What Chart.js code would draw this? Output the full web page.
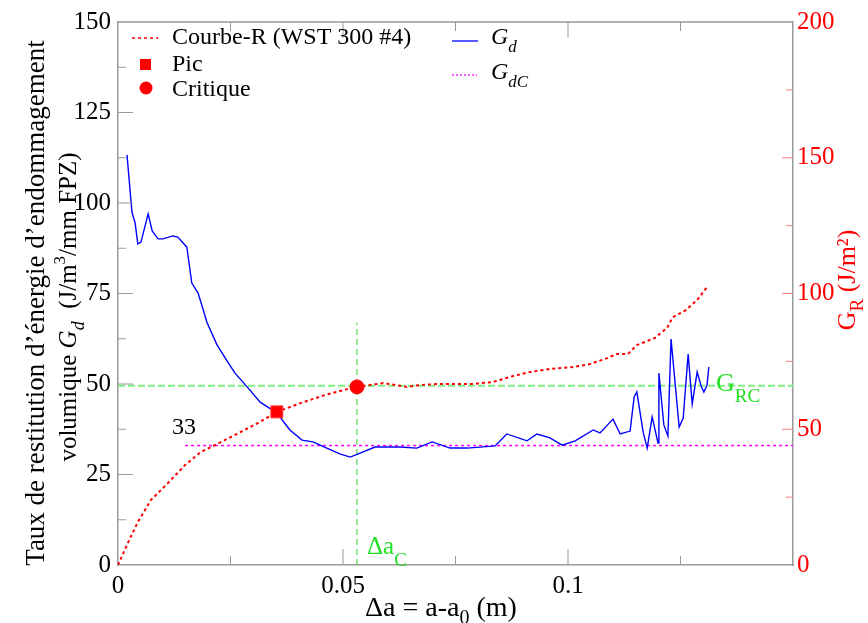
<!DOCTYPE html>
<html>
<head>
<meta charset="utf-8">
<script src="https://cdn.jsdelivr.net/npm/chart.js@4.4.0/dist/chart.umd.min.js"></script>
<style>
  html, body { margin: 0; padding: 0; background: #fff; }
  #wrap { width: 868px; height: 623px; }
</style>
</head>
<body>
<div id="wrap"><canvas id="chart" width="868" height="623"></canvas></div>
<script>
// Gd (left axis)
var gdX = [0.0020, 0.0031, 0.0038, 0.0044, 0.0051, 0.0067, 0.0076, 0.0089, 0.0100, 0.0122, 0.0133, 0.0153,
           0.0164, 0.0178, 0.0198, 0.0220, 0.0238, 0.0260, 0.0287, 0.0316, 0.0353, 0.0382, 0.0409, 0.0433,
           0.0464, 0.0493, 0.0516, 0.0538, 0.0571, 0.0627, 0.0664, 0.0698, 0.0738, 0.0776, 0.0838, 0.0864,
           0.0909, 0.0931, 0.0960, 0.0987, 0.1016, 0.1056, 0.1071, 0.1100, 0.1116, 0.1138, 0.1147, 0.1153,
           0.1167, 0.1176, 0.1187, 0.1200, 0.1202, 0.1213, 0.1222, 0.1229, 0.1247, 0.1256, 0.1267, 0.1276,
           0.1287, 0.1296, 0.1302, 0.1309, 0.1313];
var gdY = [113.3, 97.5, 94.5, 88.7, 89.2, 97.0, 92.3, 90.1, 90.1, 90.9, 90.6, 87.8,
           77.9, 75.1, 66.9, 60.8, 57.2, 53.0, 49.2, 45.0, 42.0, 37.3, 34.5, 34.0,
           32.3, 30.7, 29.8, 30.9, 32.6, 32.6, 32.3, 34.0, 32.3, 32.3, 32.9, 36.2,
           34.3, 36.2, 35.1, 33.1, 34.3, 37.3, 36.5, 40.3, 36.2, 37.0, 46.4, 47.8,
           36.7, 32.3, 40.9, 33.7, 53.0, 38.7, 35.6, 62.4, 38.1, 40.6, 58.3, 44.5,
           53.3, 49.4, 47.8, 49.7, 54.7];

// R-curve GR (right axis)
var grX = [0, 0.0022, 0.0044, 0.0073, 0.0111, 0.0149, 0.0184, 0.0216, 0.0260, 0.0311, 0.0353, 0.0407,
           0.0460, 0.0518, 0.0531, 0.0589, 0.0642, 0.0671, 0.0716, 0.0789, 0.0833, 0.0878, 0.0916, 0.0960,
           0.1011, 0.1049, 0.1087, 0.1109, 0.1133, 0.1153, 0.1193, 0.1220, 0.1233, 0.1262, 0.1287, 0.1311];
var grY = [0, 8.1, 15.8, 23.9, 30.2, 36.8, 41.6, 44.2, 47.9, 52.3, 56.4, 59.7,
           62.6, 65.2, 65.6, 67.0, 65.6, 66.3, 66.7, 66.7, 67.4, 69.6, 71.1, 72.2,
           72.9, 74.0, 76.2, 77.7, 77.7, 81.0, 83.6, 87.3, 91.3, 93.9, 97.6, 102.8];

var pic = [0.0353, 56.4];        // peak (x, GR)
var critique = [0.0531, 65.6];   // critical point (x, GR)
var gdC = 33;                    // Gd critical
var gdCStart = 0.0149;
var gRC = 49.5;                  // GRC line (left axis units)
var daC = 0.0531;                // delta a critical
var daCTop = 67;

var xMax = 0.15, yMax = 150, y2Max = 200;
var xLabels = ['0', '0.05', '0.1'];
var yLabels = ['0', '25', '50', '75', '100', '125', '150'];
var y2Labels = ['0', '50', '100', '150', '200'];

var serif = '"Liberation Serif", "DejaVu Serif", "Times New Roman", serif';

function pts(xs, ys) {
    return xs.map(function (x, i) { return { x: x, y: ys[i] }; });
}

// draws text made of pieces: [text, size, italic, dy]
function rich(ctx, parts, x, y, align) {
    var w = 0;
    parts.forEach(function (p) {
        ctx.font = (p[2] ? 'italic ' : '') + p[1] + 'px ' + serif;
        w += ctx.measureText(p[0]).width;
    });
    var cx = align === 'center' ? x - w / 2 : x;
    parts.forEach(function (p) {
        ctx.font = (p[2] ? 'italic ' : '') + p[1] + 'px ' + serif;
        ctx.fillText(p[0], cx, y + (p[3] || 0));
        cx += ctx.measureText(p[0]).width;
    });
}

function near(v, step) {
    return Math.abs(v / step - Math.round(v / step)) < 1e-6;
}

var decor = {
    id: 'decor',
    afterDraw: function (chart) {
        var ctx = chart.ctx, a = chart.chartArea;
        var sx = chart.scales.x, sy = chart.scales.y, sy2 = chart.scales.y2;
        ctx.save();

        // frame top line
        ctx.strokeStyle = '#999';
        ctx.lineWidth = 1.5;
        ctx.beginPath();
        ctx.moveTo(a.left, a.top);
        ctx.lineTo(a.right, a.top);
        ctx.stroke();

        // inward ticks
        ctx.lineWidth = 1;
        ctx.beginPath();
        sx.ticks.forEach(function (t) {
            var px = sx.getPixelForValue(t.value);
            if (t.value <= 0 || t.value >= xMax - 1e-9) return;
            var len = near(t.value, 0.05) ? 16 : 9;
            ctx.moveTo(px, a.bottom); ctx.lineTo(px, a.bottom - len);
            ctx.moveTo(px, a.top); ctx.lineTo(px, a.top + len);
        });
        sy.ticks.forEach(function (t) {
            var py = sy.getPixelForValue(t.value);
            if (t.value <= 0 || t.value >= yMax) return;
            var len = near(t.value, 25) ? 15 : 8;
            ctx.moveTo(a.left, py); ctx.lineTo(a.left + len, py);
        });
        ctx.stroke();

        ctx.strokeStyle = '#ff8080';
        ctx.beginPath();
        sy2.ticks.forEach(function (t) {
            var py = sy2.getPixelForValue(t.value);
            if (t.value <= 0 || t.value >= y2Max) return;
            var len = near(t.value, 50) ? 11 : 7;
            ctx.moveTo(a.right, py); ctx.lineTo(a.right - len, py);
        });
        ctx.stroke();

        // legend
        ctx.textBaseline = 'alphabetic';
        ctx.textAlign = 'left';
        ctx.lineWidth = 1.5;
        ctx.strokeStyle = '#ff0000';
        ctx.setLineDash([3, 3]);
        ctx.beginPath(); ctx.moveTo(132, 38); ctx.lineTo(158, 38); ctx.stroke();
        ctx.setLineDash([]);
        ctx.fillStyle = '#ff0000';
        ctx.fillRect(140, 59, 11, 11);
        ctx.beginPath(); ctx.arc(146, 88, 6.5, 0, Math.PI * 2); ctx.fill();
        ctx.fillStyle = '#000';
        ctx.font = '24px ' + serif;
        ctx.fillText('Courbe-R (WST 300 #4)', 172, 44);
        ctx.fillText('Pic', 172, 71);
        ctx.fillText('Critique', 172, 96);

        ctx.strokeStyle = '#0000ff';
        ctx.lineWidth = 1.3;
        ctx.beginPath(); ctx.moveTo(452, 41); ctx.lineTo(478, 41); ctx.stroke();
        ctx.strokeStyle = '#ff00ff';
        ctx.setLineDash([2, 2]);
        ctx.beginPath(); ctx.moveTo(452, 75); ctx.lineTo(477, 75); ctx.stroke();
        ctx.setLineDash([]);
        rich(ctx, [['G', 24, true, 0], ['d', 17, true, 8]], 491, 44);
        rich(ctx, [['G', 24, true, 0], ['dC', 17, true, 8]], 491, 79);

        // annotations
        ctx.fillStyle = '#000';
        ctx.font = '24px ' + serif;
        ctx.fillText(String(gdC), 172, 434);
        ctx.fillStyle = '#22e022';
        rich(ctx, [['G', 26, false, 0], ['RC', 19, false, 11]], 716, 391);
        rich(ctx, [['\u0394a', 25, false, 0], ['C', 19, false, 12]], 367, 554);

        // x title
        ctx.fillStyle = '#000';
        rich(ctx, [['\u0394a = a-a', 28, false, 0], ['0', 20, false, 8], [' (m)', 28, false, 0]], 441, 616, 'center');

        // left title
        ctx.save();
        ctx.rotate(-Math.PI / 2);
        rich(ctx, [['Taux de restitution d\u2019\u00e9nergie d\u2019endommagement', 27, false, 0]], -303, 44, 'center');
        rich(ctx, [['volumique ', 25, false, 0], ['G', 25, true, 0], ['d', 18, true, 8],
                   ['  (J/m', 25, false, 0], ['3', 17, false, -11], ['/mm FPZ)', 25, false, 0]], -307, 76, 'center');
        ctx.restore();

        // right title
        ctx.save();
        ctx.fillStyle = '#ff0000';
        ctx.translate(855, 280);
        ctx.rotate(-Math.PI / 2);
        rich(ctx, [['G', 26, false, 0], ['R', 19, false, 8], [' (J/m\u00b2)', 26, false, 0]], 0, 0, 'center');
        ctx.restore();

        ctx.restore();
    }
};

var chart = new Chart(document.getElementById('chart'), {
    type: 'line',
    data: {
        datasets: [
            {
                label: 'Pic', data: pts([pic[0]], [pic[1]]), yAxisID: 'y2', showLine: false,
                pointStyle: 'rect', pointRadius: 8.5, pointBackgroundColor: '#ff0000',
                pointBorderColor: '#ff4040', pointBorderWidth: 1, order: 0
            },
            {
                label: 'Critique', data: pts([critique[0]], [critique[1]]), yAxisID: 'y2', showLine: false,
                pointStyle: 'circle', pointRadius: 7, pointBackgroundColor: '#ff0000',
                pointBorderColor: '#ff0000', order: 1
            },
            {
                label: 'Courbe-R', data: pts(grX, grY), yAxisID: 'y2', borderColor: '#ff0000',
                borderWidth: 2, borderDash: [3, 3], pointRadius: 0, tension: 0, order: 2
            },
            {
                label: 'Gd', data: pts(gdX, gdY), yAxisID: 'y', borderColor: '#0000ff',
                borderWidth: 1.4, pointRadius: 0, tension: 0, order: 3
            },
            {
                label: 'GdC', data: pts([gdCStart, xMax], [gdC, gdC]), yAxisID: 'y', borderColor: '#ff00ff',
                borderWidth: 1.5, borderDash: [3, 3], pointRadius: 0, order: 4
            },
            {
                label: 'GRC', data: pts([0, xMax], [gRC, gRC]), yAxisID: 'y', borderColor: '#80f080',
                borderWidth: 2, borderDash: [7, 3], pointRadius: 0, order: 5
            },
            {
                label: 'daC', data: pts([daC, daC], [0, daCTop]), yAxisID: 'y', borderColor: '#33cc33',
                borderWidth: 1, borderDash: [6, 4], pointRadius: 0, order: 6
            }
        ]
    },
    options: {
        responsive: false,
        animation: false,
        devicePixelRatio: 1,
        layout: { padding: { top: 22, left: 0, right: 0, bottom: 0 } },
        plugins: { legend: { display: false }, tooltip: { enabled: false } },
        scales: {
            x: {
                type: 'linear', min: 0, max: xMax,
                grid: { display: false, drawTicks: false },
                border: { display: true, color: '#999', width: 1.5 },
                ticks: {
                    stepSize: 0.025, autoSkip: false, maxRotation: 0, padding: 6, color: '#000',
                    font: { family: serif, size: 25 },
                    callback: function (v) {
                        var k = Math.round(v / 0.05);
                        return near(v, 0.05) && xLabels[k] !== undefined ? xLabels[k] : '';
                    }
                },
                afterFit: function (s) { s.height = 58; }
            },
            y: {
                position: 'left', min: 0, max: yMax,
                grid: { display: false, drawTicks: false },
                border: { display: true, color: '#999', width: 1.5 },
                ticks: {
                    stepSize: 12.5, autoSkip: false, padding: 7, color: '#000',
                    font: { family: serif, size: 25 },
                    callback: function (v) {
                        return near(v, 25) ? yLabels[Math.round(v / 25)] : '';
                    }
                },
                afterFit: function (s) { s.width = 118; }
            },
            y2: {
                position: 'right', min: 0, max: y2Max,
                grid: { display: false, drawTicks: false },
                border: { display: true, color: '#999', width: 1.5 },
                ticks: {
                    stepSize: 25, autoSkip: false, padding: 4, color: '#ff0000',
                    font: { family: serif, size: 25 },
                    callback: function (v) {
                        return near(v, 50) ? y2Labels[Math.round(v / 50)] : '';
                    }
                },
                afterFit: function (s) { s.width = 75; }
            }
        }
    },
    plugins: [decor]
});
</script>
</body>
</html>
